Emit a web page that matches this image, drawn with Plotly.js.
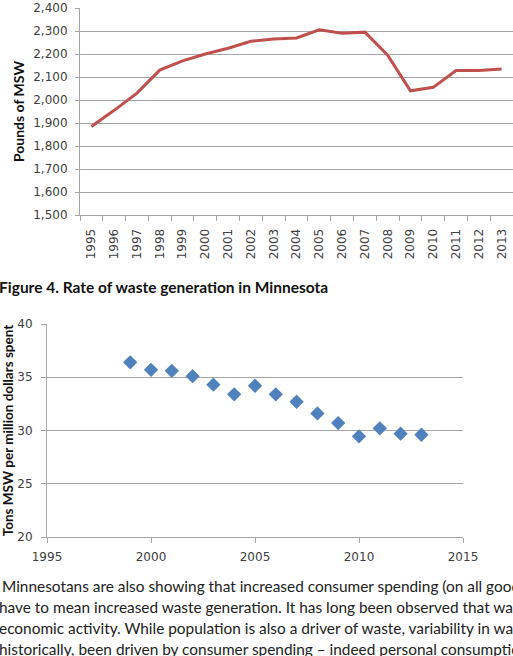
<!DOCTYPE html>
<html>
<head>
<meta charset="utf-8">
<script src="https://cdn.plot.ly/plotly-3.0.1.min.js"></script>
<style>
  html, body { margin: 0; padding: 0; background: #fff; overflow: hidden; }
  #fig { width: 513px; height: 656px; }
</style>
</head>
<body>
<div id="fig"></div>
<script>
// Annual municipal solid waste generated per person in Minnesota
const years = ['1995','1996','1997','1998','1999','2000','2001','2002','2003','2004',
               '2005','2006','2007','2008','2009','2010','2011','2012','2013'];
const poundsMSW = [1885, 1955, 2030, 2130, 2170, 2200, 2225, 2255, 2265, 2270,
                   2305, 2290, 2295, 2195, 2040, 2055, 2128, 2128, 2135];

// Tons of MSW per million dollars of consumer spending
const spendYears = [1999, 2000, 2001, 2002, 2003, 2004, 2005, 2006, 2007, 2008, 2009, 2010, 2011, 2012, 2013];
const tonsPerMillion = [36.4, 35.7, 35.6, 35.1, 34.3, 33.4, 34.2, 33.4, 32.7, 31.6, 30.7, 29.45, 30.2, 29.7, 29.6];

const captionText = 'Figure 4. Rate of waste generation in Minnesota';
const bodyLines = [
  'Minnesotans are also showing that increased consumer spending (on all goods',
  'have to mean increased waste generation. It has long been observed that waste',
  'economic activity. While population is also a driver of waste, variability in waste',
  'historically, been driven by consumer spending \u2013 indeed personal consumption'
];

const W = 513, H = 656;
const px = x => x / W;          // pixel column -> paper x
const py = y => 1 - y / H;      // pixel row -> paper y

const gridCol = '#a6a6a6';
const tickFont = { family: 'DejaVu Sans', size: 12, color: '#404040' };
const titleFont = { family: 'Lato', size: 14, color: '#111', weight: 'bold' };

const traces = [
  {
    type: 'scatter', mode: 'lines',
    x: years, y: poundsMSW,
    xaxis: 'x', yaxis: 'y',
    line: { color: '#c0504d', width: 3 },
    hoverinfo: 'skip'
  },
  {
    type: 'scatter', mode: 'markers',
    x: spendYears, y: tonsPerMillion,
    xaxis: 'x2', yaxis: 'y2',
    marker: { symbol: 'diamond', size: 11, color: '#4f81bd' },
    hoverinfo: 'skip'
  }
];

const annotations = [
  {
    text: '<b>' + captionText + '</b>',
    xref: 'paper', yref: 'paper', x: px(-3), y: py(287),
    xanchor: 'left', yanchor: 'middle', showarrow: false,
    font: { family: 'Lato', size: 15.5, color: '#111' }
  }
];
bodyLines.forEach((line, i) => {
  annotations.push({
    text: line,
    xref: 'paper', yref: 'paper', x: px(i === 0 ? 0 : -3), y: py(586 + i * 21),
    xanchor: 'left', yanchor: 'middle', showarrow: false,
    font: { family: 'Lato', size: 15.4, color: '#222' }
  });
});

const layout = {
  width: W, height: H,
  margin: { l: 0, r: 0, t: 0, b: 0, pad: 0 },
  paper_bgcolor: '#fff', plot_bgcolor: '#fff',
  showlegend: false,
  xaxis: {
    type: 'category', domain: [px(80), 1], anchor: 'y',
    range: [-0.5, years.length - 0.5],
    showgrid: false, showline: true, linecolor: gridCol, linewidth: 1,
    ticks: 'outside', tickson: 'boundaries', ticklen: 5, tickcolor: gridCol,
    tickangle: -90, tickfont: tickFont, ticklabelstandoff: 8, automargin: false
  },
  yaxis: {
    domain: [py(215), py(8)], anchor: 'x',
    range: [1500, 2400], dtick: 100, tickformat: ',d',
    showgrid: true, gridcolor: gridCol, gridwidth: 1,
    showline: true, linecolor: gridCol, linewidth: 1,
    ticks: 'outside', ticklen: 4, tickcolor: gridCol,
    tickfont: tickFont, ticklabelstandoff: 5, zeroline: false, automargin: false,
    title: { text: 'Pounds of MSW', font: titleFont, standoff: 5 }
  },
  xaxis2: {
    domain: [px(47), px(463)], anchor: 'y2',
    range: [1995, 2015], dtick: 5,
    showgrid: false, showline: true, linecolor: gridCol, linewidth: 1,
    ticks: 'outside', ticklen: 5, tickcolor: gridCol,
    tickfont: tickFont, ticklabelstandoff: 4, zeroline: false, automargin: false
  },
  yaxis2: {
    domain: [py(537), py(324)], anchor: 'x2',
    range: [20, 40], dtick: 5,
    showgrid: true, gridcolor: gridCol, gridwidth: 1,
    showline: true, linecolor: gridCol, linewidth: 1,
    ticks: 'outside', ticklen: 5, tickcolor: gridCol,
    tickfont: tickFont, ticklabelstandoff: 6, zeroline: false, automargin: false,
    title: { text: 'Tons MSW per million dollars spent', font: { family: 'Lato', size: 13.5, color: '#111', weight: 'bold' }, standoff: 2 }
  },
  annotations: annotations
};

Plotly.newPlot('fig', traces, layout, { staticPlot: true, displayModeBar: false });
</script>
</body>
</html>
